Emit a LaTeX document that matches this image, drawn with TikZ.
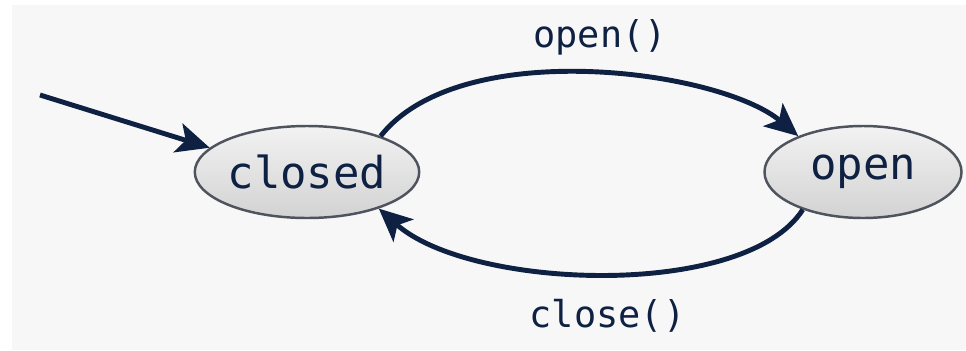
\documentclass[tikz,border=0pt]{standalone}
\usepackage{fontspec}
\setmonofont{DejaVu Sans Mono}
\usetikzlibrary{arrows.meta,shapes.geometric}

\definecolor{ink}{HTML}{0E2142}
\definecolor{rim}{HTML}{4E535D}
\definecolor{paper}{HTML}{F7F7F7}

\tikzset{
	state/.style={ellipse, draw=rim, line width=1.4pt, top color=white!90!gray, bottom color=gray!35!white,
		text=ink, font=\ttfamily\fontsize{25}{25}\selectfont, inner sep=0pt},
	trans/.style={draw=ink, line width=2.8pt, -{Stealth[length=6.6mm, width=6mm, inset=1.6mm]}},
	event/.style={text=ink, font=\ttfamily\fontsize{21}{21}\selectfont}
}

\begin{document}
\begin{tikzpicture}
		\useasboundingbox (0,0) rectangle (19.32,7);
		\fill[white] (0,0) rectangle (19.32,7);
		\fill[paper] (0.24,0) rectangle (19.32,6.9);

		\node(closed) at (6.14,3.56) [state, minimum width=4.48cm, minimum height=1.84cm] {closed};
		\node(open) at (17.26,3.56) [state, minimum width=3.94cm, minimum height=1.84cm] {open};
		\coordinate(start) at (0.8,5.1);

		\node(lopen) at (12.0,6.26) [event] {open()};
		\node(lclose) at (12.15,0.68) [event] {close()};

		\draw[trans] (start) -- (closed.166);
		\draw[trans] (closed.26) .. controls (9.2,6.3) and (14.4,5.6) .. (open.151);
		\draw[trans] (open.212) .. controls (14.9,1.0) and (9.4,1.2) .. (closed.333);
	\end{tikzpicture}
\end{document}
